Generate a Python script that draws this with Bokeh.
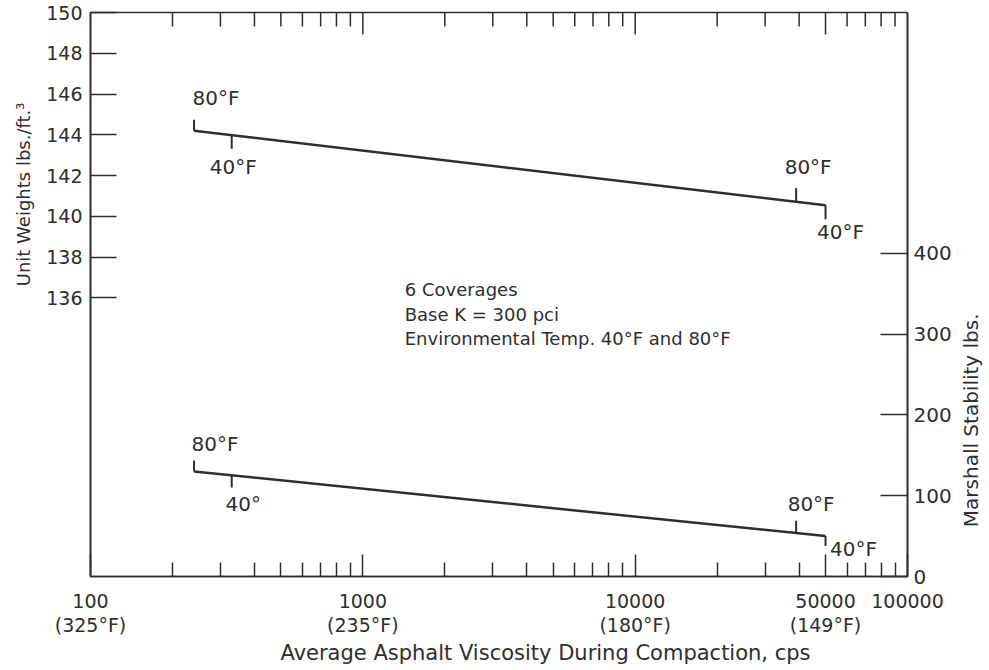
import math
from bokeh.plotting import figure
from bokeh.layouts import row
from bokeh.models import LogAxis, LinearAxis, FixedTicker, Range1d, Title, ColumnDataSource
from bokeh.core.properties import value
from bokeh.embed import file_html
from bokeh.resources import INLINE

# ---------------- data ----------------
x_major = [100, 1000, 10000, 50000, 100000]
x_major_labels = ["100", "1000", "10000", "50000", "100000"]
x_temp_labels = ["(325°F)", "(235°F)", "(180°F)", "(149°F)", ""]
x_minor = [200, 300, 400, 500, 600, 700, 800, 900,
           2000, 3000, 4000, 5000, 6000, 7000, 8000, 9000,
           20000, 30000, 40000, 60000, 70000, 80000, 90000]
uw_ticks = [136, 138, 140, 142, 144, 146, 148, 150]
ms_ticks = [0, 100, 200, 300, 400]

# Unit weight (lbs/ft^3) vs viscosity
uw_line_visc = [240, 50000]
uw_line_val = [144.2, 140.55]
uw_mark_visc = [240, 330, 39000, 50000]
uw_mark_val = [144.2, 144.0, 140.7, 140.55]
uw_mark_text = ["80°F", "40°F", "80°F", "40°F"]

# Marshall stability (lbs) vs viscosity
ms_line_visc = [240, 50000]
ms_line_val = [130, 50]
ms_mark_visc = [240, 330, 39000, 50000]
ms_mark_val = [130, 125, 54, 50]
ms_mark_text = ["80°F", "40°", "80°F", "40°F"]

note_lines = ["6 Coverages", "Base K = 300 pci", "Environmental Temp. 40°F and 80°F"]
x_title = "Average Asphalt Viscosity During Compaction, cps"
uw_title = "Unit Weights lbs./ft.³"
ms_title = "Marshall Stability lbs."

# ---------------- styles ----------------
FONT = "DejaVu Sans"
INK = "#2e2e2e"
UP, DOWN = math.pi / 2, -math.pi / 2
uw_mark_dir = [UP, DOWN, UP, DOWN]
uw_mark_len = [11, 14, 14, 14]
uw_text_dx = [22, 1.5, 12, 15]
uw_text_dy = [-33, 32, -35, 27]
ms_mark_dir = [UP, DOWN, UP, DOWN]
ms_mark_len = [11, 12, 12, 10]
ms_text_dx = [21, 11.5, 15, 28]
ms_text_dy = [-27, 29, -29, 13]

H = 666
UW_RANGE = (122.34, 150)
MS_RANGE = (0, 698)

p = figure(width=955, height=H, output_backend="svg", toolbar_location=None,
           x_axis_type="log", x_axis_location=None, y_axis_location=None,
           x_range=Range1d(100, 100000), y_range=Range1d(*UW_RANGE),
           min_border_left=88, min_border_right=48, min_border_top=12, min_border_bottom=90)
p.extra_y_ranges = {"ms": Range1d(*MS_RANGE)}
p.grid.visible = False
p.outline_line_color = INK
p.outline_line_width = 1.6
p.background_fill_color = "white"
p.border_fill_color = "white"


def style(ax, size):
    ax.axis_line_color = INK
    ax.axis_line_width = 1.6
    ax.major_tick_line_color = INK
    ax.minor_tick_line_color = INK
    ax.major_tick_line_width = 1.5
    ax.minor_tick_line_width = 1.5
    ax.major_tick_out = 0
    ax.minor_tick_out = 0
    ax.major_label_text_font = FONT
    ax.major_label_text_color = INK
    ax.major_label_text_font_size = size
    return ax


bottom1 = style(LogAxis(ticker=FixedTicker(ticks=x_major, minor_ticks=x_minor),
                        major_label_overrides=dict(zip(x_major, x_major_labels))), "19px")
bottom1.major_tick_in = 22
bottom1.minor_tick_in = 14
bottom1.major_label_standoff = 17

bottom2 = style(LogAxis(ticker=FixedTicker(ticks=x_major, minor_ticks=[]),
                        major_label_overrides=dict(zip(x_major, x_temp_labels))), "19px")
bottom2.axis_line_color = None
bottom2.major_tick_in = 0
bottom2.minor_tick_in = 0
bottom2.major_label_standoff = 3

left = style(LinearAxis(ticker=FixedTicker(ticks=uw_ticks, minor_ticks=[])), "19px")
left.major_tick_in = 26
left.major_label_standoff = 8

right = style(LinearAxis(y_range_name="ms", ticker=FixedTicker(ticks=ms_ticks, minor_ticks=[])), "20px")
right.major_tick_in = 27
right.major_label_standoff = 6

p.add_layout(bottom1, "below")
p.add_layout(bottom2, "below")
p.add_layout(left, "left")
p.add_layout(right, "right")

# axis titles placed in the side panels
p.add_layout(Title(text=uw_title, align="right", offset=90, standoff=20, text_font=FONT,
                   text_font_size="18px", text_font_style="normal", text_color=INK), "left")
p.add_layout(Title(text=x_title, align="left", offset=190, standoff=0, text_font=FONT,
                   text_font_size="21px", text_font_style="normal", text_color=INK), "below")

# tick marks along the top edge (same ticker values as the bottom axis)
top_y = UW_RANGE[1]
p.ray(x=x_minor, y=[top_y] * len(x_minor), length=14, angle=DOWN, length_units="screen",
      line_width=1.5, line_color=INK)
p.ray(x=x_major[1:-1], y=[top_y] * len(x_major[1:-1]), length=22, angle=DOWN,
      length_units="screen", line_width=1.5, line_color=INK)

# data lines
p.line(uw_line_visc, uw_line_val, line_width=2.5, line_color=INK)
p.line(ms_line_visc, ms_line_val, line_width=2.5, line_color=INK, y_range_name="ms")

uw_src = ColumnDataSource(dict(x=uw_mark_visc, y=uw_mark_val, t=uw_mark_text, ang=uw_mark_dir,
                               ln=uw_mark_len, dx=uw_text_dx, dy=uw_text_dy))
ms_src = ColumnDataSource(dict(x=ms_mark_visc, y=ms_mark_val, t=ms_mark_text, ang=ms_mark_dir,
                               ln=ms_mark_len, dx=ms_text_dx, dy=ms_text_dy))

for src, rng in ((uw_src, "default"), (ms_src, "ms")):
    p.ray(x="x", y="y", length="ln", angle="ang", length_units="screen", source=src,
          line_width=2, line_color=INK, y_range_name=rng)
    p.text(x="x", y="y", text="t", x_offset="dx", y_offset="dy", source=src, y_range_name=rng,
           text_align="center", text_baseline="middle", text_font=value(FONT),
           text_font_size=value("20px"), text_color=INK)

# note block
p.text(x=[1425] * 3, y=[136.41] * 3, text=note_lines, y_offset=[0, 24.5, 49],
       text_align="left", text_baseline="middle", text_font=value(FONT),
       text_font_size=value("18px"), text_color=INK)

# right-hand axis title (reads bottom-to-top), in a narrow strip sharing the y scale
q = figure(width=30, height=H, output_backend="svg", toolbar_location=None,
           x_axis_location=None, y_axis_location=None,
           x_range=Range1d(0, 1), y_range=p.y_range,
           min_border_left=0, min_border_right=0, min_border_top=12, min_border_bottom=90)
q.grid.visible = False
q.outline_line_color = None
q.background_fill_color = "white"
q.border_fill_color = "white"
q.text(x=[0.5], y=[130.0], text=[ms_title], angle=math.pi / 2, text_align="center",
       text_baseline="middle", text_font=value(FONT), text_font_size=value("20px"),
       text_color=INK)

layout = row(p, q)
open("out.html", "w").write(file_html(layout, INLINE))
